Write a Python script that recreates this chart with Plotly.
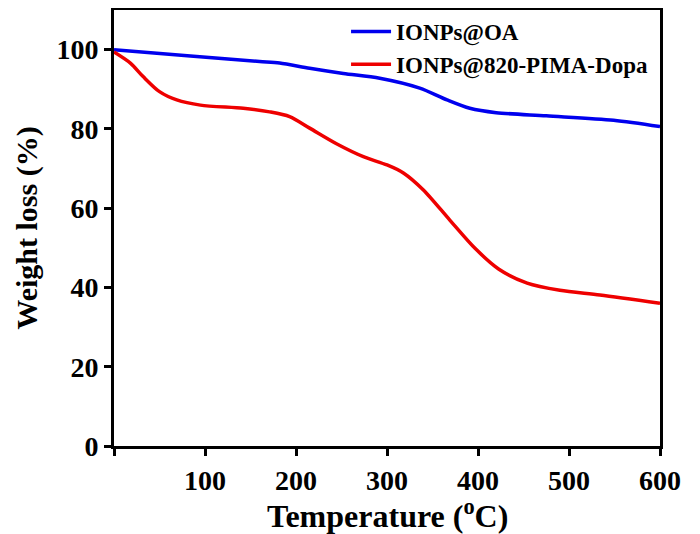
import plotly.graph_objects as go

# Data
temp_oa = [0, 84, 160, 182, 215, 252, 292, 336, 366, 391, 420, 475, 549, 600]
wl_oa = [100.0, 98.4, 97.0, 96.6, 95.3, 94.0, 92.8, 90.3, 87.3, 85.2, 84.1, 83.3, 82.2, 80.6]

temp_pima = [0, 18, 32, 50, 69, 95, 142, 171, 193, 215, 245, 274, 300, 318, 340, 369, 397, 423, 454, 490, 534, 600]
wl_pima = [99.4, 96.6, 93.2, 89.4, 87.3, 86.0, 85.2, 84.3, 83.1, 80.2, 76.2, 73.0, 70.9, 68.9, 64.6, 57.0, 49.8, 44.6, 41.1, 39.3, 38.1, 36.0]

series_names = ["IONPs@OA", "IONPs@820-PIMA-Dopa"]
series_colors = ["#0000ee", "#ee0000"]

x_tickvals = [0, 100, 200, 300, 400, 500, 600]
x_ticktext = ["", "100", "200", "300", "400", "500", "600"]
y_tickvals = [0, 20, 40, 60, 80, 100]

FONT = "Liberation Serif"

fig = go.Figure()
for t, w, n, c in [(temp_oa, wl_oa, series_names[0], series_colors[0]),
                   (temp_pima, wl_pima, series_names[1], series_colors[1])]:
    fig.add_trace(go.Scatter(x=t, y=w, name=n, mode="lines",
                             line=dict(color=c, width=3.5, shape="spline", smoothing=0.8)))

axis_common = dict(showline=True, linecolor="black", linewidth=3, mirror=True,
                   ticks="outside", ticklen=7, tickwidth=2.5, tickcolor="black",
                   showgrid=False, zeroline=False, automargin=False,
                   tickfont=dict(family=FONT, size=28, color="black", weight="bold"))

fig.update_layout(
    width=700, height=534,
    margin=dict(l=106, r=48, t=2, b=96),
    paper_bgcolor="white", plot_bgcolor="white",
    xaxis=dict(range=[0, 600], tickvals=x_tickvals, ticktext=x_ticktext,
               **axis_common),
    yaxis=dict(range=[0, 110], tickvals=y_tickvals,
               title=dict(text="Weight loss (%)",
                          font=dict(family=FONT, size=30, color="black", weight="bold"),
                          standoff=10),
               **axis_common),
    legend=dict(x=0.425, y=1.0, xanchor="left", yanchor="top",
                bgcolor="rgba(0,0,0,0)",
                font=dict(family=FONT, size=23, color="black", weight="bold"),
                itemwidth=40, tracegroupgap=0),
    showlegend=True,
    annotations=[dict(text="Temperature (<sup>o</sup>C)", xref="paper", yref="paper",
                      x=0.5, y=-0.157, xanchor="center", yanchor="middle",
                      showarrow=False,
                      font=dict(family=FONT, size=32, color="black", weight="bold"))],
)

fig.write_html("out.html")
